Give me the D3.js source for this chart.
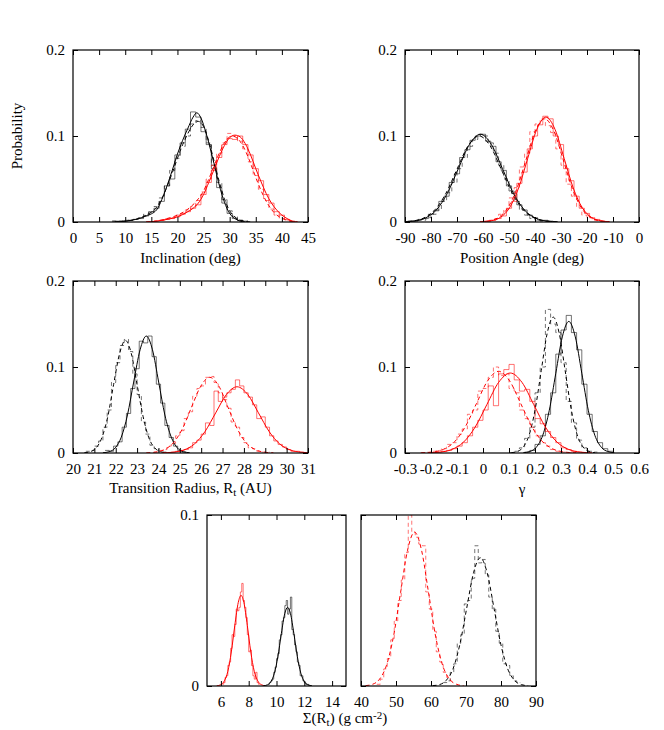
<!DOCTYPE html>
<html>
<head>
<meta charset="utf-8">
<script src="https://cdn.jsdelivr.net/npm/d3@7/dist/d3.min.js"></script>
<style>
  body { margin: 0; background: #fff; }
  svg text { font-size: 15px; fill: #000; }
</style>
</head>
<body>
<svg id="fig" width="664" height="730"></svg>
<script>
// ---------------- data ----------------

// Inclination (deg), histogram bins of 1 deg, values = probability
var incTicks = [0, 5, 10, 15, 20, 25, 30, 35, 40, 45];
var incBin = 1;
var incBlackStart = 8;
var incBlackSolidHist = [0.001,0.001,0.001,0.002,0.003,0.004,0.007,0.012,0.016,0.024,0.042,0.05,0.078,0.092,0.108,0.128,0.122,0.105,0.09,0.062,0.04,0.022,0.01,0.004,0.002,0.001];
var incBlackDashHist = [0.001,0.001,0.002,0.002,0.003,0.005,0.009,0.012,0.018,0.028,0.042,0.06,0.074,0.088,0.1,0.114,0.118,0.11,0.092,0.066,0.046,0.026,0.013,0.006,0.002,0.001];
var incRedStart = 16;
var incRedSolidHist = [0.001,0.002,0.003,0.004,0.006,0.009,0.012,0.016,0.02,0.032,0.046,0.06,0.075,0.09,0.097,0.096,0.1,0.09,0.078,0.062,0.048,0.032,0.022,0.012,0.008,0.003,0.001];
var incRedDashHist = [0.001,0.002,0.004,0.005,0.008,0.01,0.014,0.018,0.025,0.035,0.05,0.066,0.08,0.092,0.103,0.1,0.094,0.085,0.07,0.054,0.038,0.025,0.015,0.008,0.004,0.002];
var incBlackSolidFit = [[8,0],[10,0.001],[12,0.003],[14,0.007],[16,0.014],[17,0.026],[18,0.042],[19,0.06],[20,0.079],[21,0.095],[22,0.109],[23,0.122],[23.7,0.127],[24.5,0.121],[25.5,0.103],[26,0.092],[27,0.068],[28,0.043],[29,0.023],[30,0.01],[31,0.004],[32,0.001],[33,0]];
var incBlackDashFit = [[8,0],[10,0.001],[12,0.003],[14,0.008],[16,0.017],[17,0.027],[18,0.041],[19,0.057],[20,0.074],[21,0.09],[22,0.103],[23,0.113],[24,0.117],[25,0.111],[26,0.094],[27,0.071],[28,0.047],[29,0.027],[30,0.013],[31,0.006],[32,0.002],[34,0]];
var incRedSolidFit = [[14,0],[16,0.001],[18,0.003],[20,0.006],[22,0.012],[23,0.016],[24,0.022],[25,0.032],[26,0.046],[27,0.061],[28,0.076],[29,0.089],[30,0.098],[31,0.101],[32,0.099],[33,0.091],[34,0.078],[35,0.062],[36,0.047],[37,0.033],[38,0.022],[39,0.014],[40,0.008],[41,0.004],[42,0.001],[43,0]];
var incRedDashFit = [[14,0],[16,0.001],[18,0.004],[20,0.008],[22,0.015],[24,0.027],[25,0.036],[26,0.05],[27,0.065],[28,0.08],[29,0.092],[30,0.099],[30.5,0.1],[31.5,0.097],[32.5,0.089],[33.5,0.076],[34.5,0.06],[35.5,0.044],[36.5,0.03],[37.5,0.019],[38.5,0.011],[39.5,0.006],[40.5,0.003],[41.5,0.001],[43,0]];

// Position angle (deg), bins of 2 deg
var paTicks = [-90, -80, -70, -60, -50, -40, -30, -20, -10, 0];
var paBin = 2;
var paBlackSolidStart = -88;
var paBlackSolidHist = [0.001,0.001,0.003,0.004,0.009,0.013,0.024,0.03,0.046,0.056,0.075,0.084,0.095,0.1,0.102,0.094,0.088,0.07,0.06,0.042,0.033,0.02,0.014,0.008,0.005,0.002,0.002,0.001];
var paBlackDashStart = -89;
var paBlackDashHist = [0.0005,0.001,0.002,0.002,0.005,0.009,0.014,0.024,0.034,0.046,0.062,0.075,0.088,0.096,0.102,0.1,0.092,0.08,0.066,0.05,0.036,0.024,0.014,0.008,0.004,0.002,0.001,0.0005];
var paRedSolidStart = -58;
var paRedSolidHist = [0.001,0.002,0.004,0.007,0.016,0.024,0.045,0.058,0.085,0.1,0.113,0.123,0.12,0.1,0.09,0.062,0.048,0.03,0.016,0.01,0.005,0.003,0.001];
var paRedDashStart = -59;
var paRedDashHist = [0.001,0.002,0.004,0.009,0.015,0.028,0.04,0.064,0.08,0.105,0.114,0.12,0.112,0.104,0.085,0.066,0.044,0.03,0.018,0.008,0.005,0.002,0.001];
var paBlackSolidFit = [[-90.75,0.0002],[-86.5,0.0011],[-82.25,0.0045],[-78,0.0138],[-73.75,0.0331],[-69.5,0.0619],[-65.25,0.09],[-61,0.102],[-56.75,0.09],[-52.5,0.0619],[-48.25,0.0331],[-44,0.0138],[-39.75,0.0045],[-35.5,0.0011],[-31.25,0.0002]];
var paBlackDashFit = [[-91.6,0.0002],[-87.3,0.0011],[-83,0.0044],[-78.7,0.0135],[-74.4,0.0325],[-70.1,0.0607],[-65.8,0.0883],[-61.5,0.1],[-57.2,0.0883],[-52.9,0.0607],[-48.6,0.0325],[-44.3,0.0135],[-40,0.0044],[-35.7,0.0011],[-31.4,0.0002]];
var paRedSolidFit = [[-60.3,0.0003],[-56.8,0.0014],[-53.3,0.0054],[-49.8,0.0165],[-46.3,0.0396],[-42.8,0.074],[-39.3,0.1077],[-35.8,0.122],[-32.3,0.1077],[-28.8,0.074],[-25.3,0.0396],[-21.8,0.0165],[-18.3,0.0054],[-14.8,0.0014],[-11.3,0.0003]];
var paRedDashFit = [[-61.15,0.0003],[-57.6,0.0013],[-54.05,0.0053],[-50.5,0.0162],[-46.95,0.039],[-43.4,0.0728],[-39.85,0.1059],[-36.3,0.12],[-32.75,0.1059],[-29.2,0.0728],[-25.65,0.039],[-22.1,0.0162],[-18.55,0.0053],[-15,0.0013],[-11.45,0.0003]];

// Transition radius (AU), bins of 0.2 AU
var rtTicks = [20, 21, 22, 23, 24, 25, 26, 27, 28, 29, 30, 31];
var rtBin = 0.2;
var rtBlackSolidStart = 21.6;
var rtBlackSolidHist = [0.003,0.002,0.008,0.013,0.03,0.046,0.075,0.098,0.13,0.128,0.136,0.112,0.08,0.058,0.032,0.018,0.008,0.003,0.001];
var rtBlackDashStart = 20.7;
var rtBlackDashHist = [0.002,0.003,0.008,0.014,0.03,0.05,0.082,0.105,0.125,0.132,0.118,0.092,0.068,0.036,0.022,0.009,0.005,0.002,0.001];
var rtRedSolidStart = 24.3;
var rtRedSolidHist = [0.0003,0.0005,0.001,0.002,0.003,0.004,0.006,0.012,0.015,0.022,0.035,0.032,0.072,0.06,0.065,0.07,0.074,0.085,0.078,0.07,0.065,0.056,0.04,0.042,0.03,0.02,0.014,0.01,0.007,0.004,0.002,0.002,0.001,0.0005];
var rtRedDashStart = 23.9;
var rtRedDashHist = [0.001,0.003,0.004,0.008,0.011,0.02,0.026,0.04,0.048,0.066,0.075,0.078,0.088,0.089,0.082,0.07,0.062,0.052,0.036,0.03,0.018,0.012,0.006,0.005,0.002,0.001,0.001];
var rtBlackSolidFit = [[21.4,0.0003],[21.69,0.0015],[21.98,0.006],[22.26,0.0184],[22.55,0.0442],[22.84,0.0825],[23.14,0.12],[23.43,0.136],[23.72,0.12],[24.01,0.0825],[24.3,0.0442],[24.6,0.0184],[24.88,0.006],[25.17,0.0015],[25.46,0.0003]];
var rtBlackDashFit = [[20.53,0.0003],[20.8,0.0015],[21.08,0.0058],[21.35,0.0177],[21.63,0.0425],[21.9,0.0795],[22.18,0.1156],[22.45,0.131],[22.73,0.1156],[23,0.0795],[23.28,0.0425],[23.55,0.0177],[23.83,0.0058],[24.1,0.0015],[24.38,0.0003]];
var rtRedSolidFit = [[24.18,0.0002],[24.68,0.0009],[25.18,0.0034],[25.68,0.0104],[26.18,0.025],[26.68,0.0467],[27.18,0.068],[27.68,0.077],[28.18,0.068],[28.68,0.0467],[29.18,0.025],[29.68,0.0104],[30.18,0.0034],[30.68,0.0009],[31.18,0.0002]];
var rtRedDashFit = [[23.43,0.0002],[23.85,0.001],[24.28,0.0039],[24.7,0.0119],[25.13,0.0286],[25.55,0.0534],[25.98,0.0777],[26.4,0.088],[26.83,0.0777],[27.25,0.0534],[27.68,0.0286],[28.1,0.0119],[28.53,0.0039],[28.95,0.001],[29.38,0.0002]];

// gamma, bins of 0.02
var gamTicks = [-0.3, -0.2, -0.1, 0, 0.1, 0.2, 0.3, 0.4, 0.5, 0.6];
var gamBin = 0.02;
var gamBlackSolidStart = 0.17;
var gamBlackSolidHist = [0.001,0.003,0.01,0.02,0.045,0.07,0.115,0.143,0.16,0.14,0.12,0.08,0.045,0.025,0.012,0.005,0.002];
var gamBlackDashStart = 0.11;
var gamBlackDashHist = [0.0005,0.002,0.006,0.017,0.03,0.07,0.1,0.167,0.15,0.14,0.105,0.06,0.035,0.015,0.006,0.002,0.001];
var gamRedSolidStart = -0.19;
var gamRedSolidHist = [0.0005,0.001,0.002,0.003,0.005,0.008,0.012,0.02,0.03,0.038,0.05,0.078,0.055,0.092,0.097,0.103,0.085,0.072,0.074,0.06,0.04,0.034,0.025,0.018,0.012,0.006,0.004,0.002,0.001,0.0005];
var gamRedDashStart = -0.23;
var gamRedDashHist = [0.0003,0.0008,0.002,0.003,0.005,0.01,0.012,0.022,0.028,0.045,0.05,0.072,0.075,0.088,0.1,0.09,0.092,0.075,0.07,0.05,0.04,0.03,0.02,0.012,0.008,0.004,0.002,0.001,0.0005,0.0003];
var gamBlackSolidFit = [[0.155,0.0003],[0.18,0.0017],[0.205,0.0067],[0.23,0.0207],[0.255,0.0497],[0.28,0.0928],[0.305,0.135],[0.33,0.153],[0.355,0.135],[0.38,0.0928],[0.405,0.0497],[0.43,0.0207],[0.455,0.0067],[0.48,0.0017],[0.505,0.0003]];
var gamBlackDashFit = [[0.109,0.0003],[0.132,0.0018],[0.155,0.0069],[0.178,0.0214],[0.201,0.0513],[0.224,0.0958],[0.247,0.1394],[0.27,0.158],[0.293,0.1394],[0.316,0.0958],[0.339,0.0513],[0.362,0.0214],[0.385,0.0069],[0.408,0.0018],[0.431,0.0003]];
var gamRedSolidFit = [[-0.21,0.0002],[-0.165,0.001],[-0.12,0.0041],[-0.075,0.0126],[-0.03,0.0302],[0.015,0.0564],[0.06,0.0821],[0.105,0.093],[0.15,0.0821],[0.195,0.0564],[0.24,0.0302],[0.285,0.0126],[0.33,0.0041],[0.375,0.001],[0.42,0.0002]];
var gamRedDashFit = [[-0.2375,0.0002],[-0.195,0.0011],[-0.1525,0.0042],[-0.11,0.0129],[-0.0675,0.0308],[-0.025,0.0576],[0.0175,0.0838],[0.06,0.095],[0.1025,0.0838],[0.145,0.0576],[0.1875,0.0308],[0.23,0.0129],[0.2725,0.0042],[0.315,0.0011],[0.3575,0.0002]];

// Sigma(R_t) (g cm^-2), left: bins of 0.1, right: bins of 1
var sigLoTicks = [6, 8, 10, 12, 14];
var sigLoBin = 0.1;
var sigLoRedStart = 6.15;
var sigLoRedHist = [0.001,0.002,0.005,0.006,0.012,0.014,0.022,0.03,0.029,0.036,0.045,0.044,0.046,0.055,0.06,0.05,0.046,0.04,0.03,0.02,0.021,0.012,0.006,0.004,0.008,0.002,0.001];
var sigLoBlackStart = 9.45;
var sigLoBlackHist = [0.001,0.002,0.003,0.004,0.008,0.011,0.016,0.019,0.027,0.03,0.038,0.04,0.047,0.05,0.042,0.045,0.052,0.033,0.03,0.024,0.02,0.014,0.012,0.006,0.006,0.003,0.002,0.001,0.001,0.0005,0.0003];
var sigLoRedFit = [[5.7,0.0001],[6,0.0008],[6.25,0.003],[6.5,0.0086],[6.75,0.0199],[7,0.0354],[7.25,0.0489],[7.45,0.053],[7.65,0.0489],[7.9,0.0354],[8.15,0.0199],[8.4,0.0086],[8.65,0.003],[8.9,0.0008],[9.2,0.0001]];
var sigLoBlackFit = [[9.05,0.0001],[9.35,0.0007],[9.6,0.0026],[9.85,0.0075],[10.1,0.0172],[10.35,0.0307],[10.6,0.0425],[10.8,0.046],[11.0,0.0425],[11.25,0.0307],[11.5,0.0172],[11.75,0.0075],[12.0,0.0026],[12.25,0.0007],[12.55,0.0001]];

var sigHiTicks = [40, 50, 60, 70, 80, 90];
var sigHiBin = 1;
var sigHiRedStart = 45;
var sigHiRedHist = [0.001,0.004,0.01,0.016,0.027,0.038,0.05,0.062,0.078,0.1,0.09,0.087,0.083,0.082,0.055,0.045,0.032,0.02,0.014,0.008,0.005,0.003];
var sigHiBlackStart = 64;
var sigHiBlackHist = [0.002,0.003,0.008,0.013,0.025,0.03,0.048,0.05,0.063,0.082,0.072,0.074,0.065,0.052,0.045,0.032,0.025,0.013,0.012,0.006,0.003,0.002];
var sigHiRedFit = [[41.3,0.0002],[43.3,0.001],[45.3,0.004],[47.3,0.0122],[49.3,0.0292],[51.3,0.0546],[53.3,0.0794],[55.3,0.09],[57.3,0.0794],[59.3,0.0546],[61.3,0.0292],[63.3,0.0122],[65.3,0.004],[67.3,0.001],[69.3,0.0002]];
var sigHiBlackFit = [[60.45,0.0002],[62.4,0.0008],[64.35,0.0033],[66.3,0.0101],[68.25,0.0244],[70.2,0.0455],[72.15,0.0662],[74.1,0.075],[76.05,0.0662],[78,0.0455],[79.95,0.0244],[81.9,0.0101],[83.85,0.0033],[85.8,0.0008],[87.75,0.0002]];

var probTicks = [0, 0.1, 0.2];
var probTicksLow = [0, 0.1];

// ---------------- drawing ----------------
var svg = d3.select("#fig");
var FONT = "'Liberation Serif', 'Times New Roman', serif";
var BLACK = "#000", RED = "#ff0000";
var DASH = "4,3";

function drawPanel(p) {
  var g = svg.append("g").attr("transform", "translate(" + p.left + "," + p.top + ")");
  var x = d3.scaleLinear().domain(p.xDomain).range([0, p.width]);
  var y = d3.scaleLinear().domain(p.yDomain).range([p.height, 0]);

  g.append("clipPath").attr("id", "clip-" + p.id)
    .append("rect").attr("width", p.width).attr("height", p.height);
  var plot = g.append("g").attr("clip-path", "url(#clip-" + p.id + ")");

  var line = d3.line().x(function(d) { return x(d[0]); }).y(function(d) { return y(d[1]); });
  var smooth = d3.line().x(function(d) { return x(d[0]); }).y(function(d) { return y(d[1]); })
    .curve(d3.curveMonotoneX);

  // histograms as steps (gnuplot histeps style)
  p.hists.forEach(function(h) {
    var pts = [];
    h.values.forEach(function(v, i) {
      var c = h.start + i * h.bin;
      pts.push([c - h.bin / 2, v], [c + h.bin / 2, v]);
    });
    plot.append("path")
      .attr("d", line(pts))
      .attr("fill", "none")
      .attr("stroke", h.color)
      .attr("stroke-opacity", 0.55)
      .attr("stroke-width", 1)
      .attr("stroke-dasharray", h.dashed ? DASH : null);
  });

  // fitted curves
  p.fits.forEach(function(f) {
    plot.append("path")
      .attr("d", smooth(f.points))
      .attr("fill", "none")
      .attr("stroke", f.color)
      .attr("stroke-width", 1)
      .attr("stroke-dasharray", f.dashed ? DASH : null);
  });

  // axes, ticks pointing inwards and mirrored
  var xb = g.append("g").attr("transform", "translate(0," + p.height + ")")
    .call(d3.axisBottom(x).tickValues(p.xTicks).tickSizeInner(-5).tickSizeOuter(0)
      .tickPadding(10).tickFormat(function(d) { return String(d); }));
  var xt = g.append("g")
    .call(d3.axisTop(x).tickValues(p.xTicks).tickSizeInner(-5).tickSizeOuter(0).tickFormat(""));
  var yl = g.append("g")
    .call(d3.axisLeft(y).tickValues(p.yTicks).tickSizeInner(-5).tickSizeOuter(0)
      .tickPadding(8).tickFormat(p.yLabels ? function(d) { return String(d); } : ""));
  var yr = g.append("g").attr("transform", "translate(" + p.width + ",0)")
    .call(d3.axisRight(y).tickValues(p.yTicks).tickSizeInner(-5).tickSizeOuter(0).tickFormat(""));
  [xb, xt, yl, yr].forEach(function(a) {
    a.attr("font-family", null).attr("font-size", null);
    a.select(".domain").remove();
    a.selectAll("text").style("font-family", FONT).style("font-size", "15px");
    a.selectAll("line").attr("stroke", "#000");
  });

  g.append("rect")
    .attr("width", p.width).attr("height", p.height)
    .attr("fill", "none").attr("stroke", "#000").attr("stroke-width", 1.2);

  if (p.title) p.title(g.append("text")
    .style("font-family", FONT)
    .attr("x", p.titleX !== undefined ? p.titleX : p.width / 2)
    .attr("y", p.height + (p.titleGap || 41))
    .attr("text-anchor", "middle"));
}

function hist(start, bin, values, color, dashed) {
  return { start: start, bin: bin, values: values, color: color, dashed: dashed };
}
function fit(points, color, dashed) {
  return { points: points, color: color, dashed: dashed };
}

drawPanel({
  id: "inc", left: 73, top: 50, width: 235, height: 172,
  xDomain: [0, 45], yDomain: [0, 0.2], xTicks: incTicks, yTicks: probTicks, yLabels: true,
  hists: [
    hist(incBlackStart, incBin, incBlackSolidHist, BLACK, false),
    hist(incBlackStart, incBin, incBlackDashHist, BLACK, true),
    hist(incRedStart, incBin, incRedSolidHist, RED, false),
    hist(incRedStart, incBin, incRedDashHist, RED, true)
  ],
  fits: [
    fit(incBlackSolidFit, BLACK, false), fit(incBlackDashFit, BLACK, true),
    fit(incRedSolidFit, RED, false), fit(incRedDashFit, RED, true)
  ],
  title: function(t) { t.text("Inclination (deg)"); }
});

drawPanel({
  id: "pa", left: 405, top: 50, width: 234, height: 172,
  xDomain: [-90, 0], yDomain: [0, 0.2], xTicks: paTicks, yTicks: probTicks, yLabels: true,
  hists: [
    hist(paBlackSolidStart, paBin, paBlackSolidHist, BLACK, false),
    hist(paBlackDashStart, paBin, paBlackDashHist, BLACK, true),
    hist(paRedSolidStart, paBin, paRedSolidHist, RED, false),
    hist(paRedDashStart, paBin, paRedDashHist, RED, true)
  ],
  fits: [
    fit(paBlackSolidFit, BLACK, false), fit(paBlackDashFit, BLACK, true),
    fit(paRedSolidFit, RED, false), fit(paRedDashFit, RED, true)
  ],
  title: function(t) { t.text("Position Angle (deg)"); }
});

drawPanel({
  id: "rt", left: 73, top: 281, width: 235, height: 172,
  xDomain: [20, 31], yDomain: [0, 0.2], xTicks: rtTicks, yTicks: probTicks, yLabels: true,
  hists: [
    hist(rtBlackSolidStart, rtBin, rtBlackSolidHist, BLACK, false),
    hist(rtBlackDashStart, rtBin, rtBlackDashHist, BLACK, true),
    hist(rtRedSolidStart, rtBin, rtRedSolidHist, RED, false),
    hist(rtRedDashStart, rtBin, rtRedDashHist, RED, true)
  ],
  fits: [
    fit(rtBlackSolidFit, BLACK, false), fit(rtBlackDashFit, BLACK, true),
    fit(rtRedSolidFit, RED, false), fit(rtRedDashFit, RED, true)
  ],
  titleGap: 40,
  title: function(t) {
    t.text("Transition Radius, R");
    t.append("tspan").attr("dy", 3).style("font-size", "11px").text("t");
    t.append("tspan").attr("dy", -3).text(" (AU)");
  }
});

drawPanel({
  id: "gam", left: 405, top: 281, width: 234, height: 172,
  xDomain: [-0.3, 0.6], yDomain: [0, 0.2], xTicks: gamTicks, yTicks: probTicks, yLabels: true,
  hists: [
    hist(gamBlackSolidStart, gamBin, gamBlackSolidHist, BLACK, false),
    hist(gamBlackDashStart, gamBin, gamBlackDashHist, BLACK, true),
    hist(gamRedSolidStart, gamBin, gamRedSolidHist, RED, false),
    hist(gamRedDashStart, gamBin, gamRedDashHist, RED, true)
  ],
  fits: [
    fit(gamBlackSolidFit, BLACK, false), fit(gamBlackDashFit, BLACK, true),
    fit(gamRedSolidFit, RED, false), fit(gamRedDashFit, RED, true)
  ],
  title: function(t) { t.text("\u03b3"); }
});

drawPanel({
  id: "siglo", left: 207, top: 515, width: 139, height: 171,
  xDomain: [5, 15], yDomain: [0, 0.1], xTicks: sigLoTicks, yTicks: probTicksLow, yLabels: true,
  hists: [
    hist(sigLoRedStart, sigLoBin, sigLoRedHist, RED, false),
    hist(sigLoBlackStart, sigLoBin, sigLoBlackHist, BLACK, false)
  ],
  fits: [fit(sigLoRedFit, RED, false), fit(sigLoBlackFit, BLACK, false)],
  titleX: 138, titleGap: 37,
  title: function(t) {
    t.text("\u03a3(R");
    t.append("tspan").attr("dy", 3).style("font-size", "11px").text("t");
    t.append("tspan").attr("dy", -3).text(") (g cm");
    t.append("tspan").attr("dy", -4).style("font-size", "11px").text("-2");
    t.append("tspan").attr("dy", 4).text(")");
  }
});

drawPanel({
  id: "sighi", left: 361, top: 515, width: 175, height: 171,
  xDomain: [40, 90], yDomain: [0, 0.1], xTicks: sigHiTicks, yTicks: probTicksLow, yLabels: false,
  hists: [
    hist(sigHiRedStart, sigHiBin, sigHiRedHist, RED, true),
    hist(sigHiBlackStart, sigHiBin, sigHiBlackHist, BLACK, true)
  ],
  fits: [fit(sigHiRedFit, RED, true), fit(sigHiBlackFit, BLACK, true)]
});

// shared y-axis title
svg.append("text")
  .style("font-family", FONT)
  .attr("transform", "translate(22,136) rotate(-90)")
  .attr("text-anchor", "middle")
  .text("Probability");
</script>
</body>
</html>
